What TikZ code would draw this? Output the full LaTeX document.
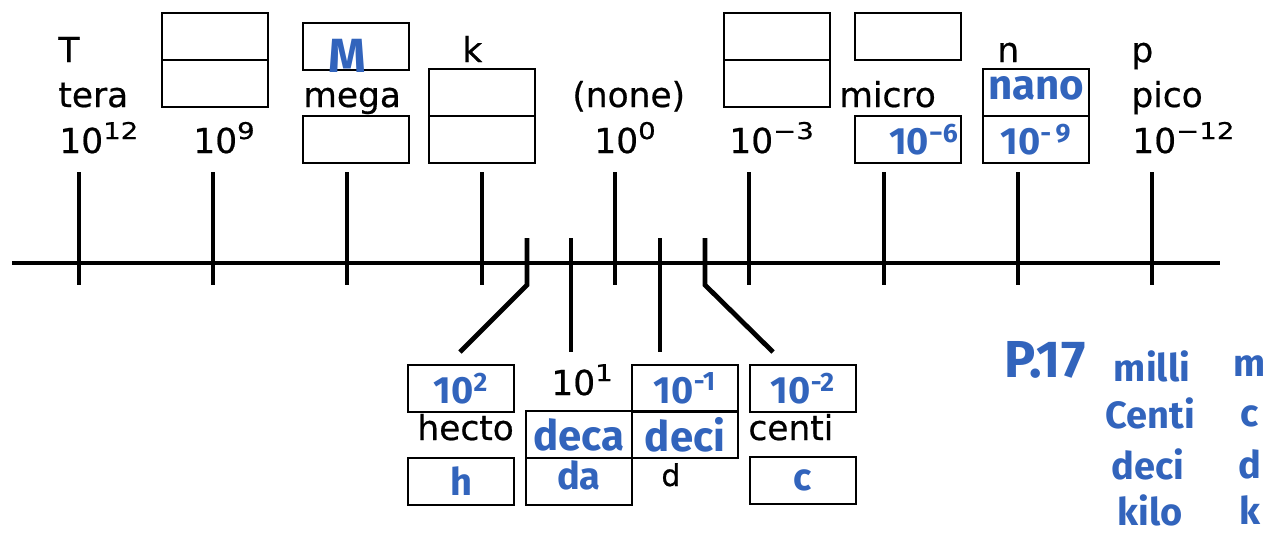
\documentclass[tikz,border=0pt]{standalone}
\usepackage{fontspec}
\setmainfont{DejaVu Sans}[FakeBold=0.6]
\newfontfamily\hand{Fira Sans}
\definecolor{ink}{RGB}{50,100,188}
\newcommand\pw[1]{\raisebox{7pt}{\scalebox{1.2}[1.0]{\fontsize{11.5}{11.5}\selectfont #1}}}
\begin{document}
\begin{tikzpicture}[x=0.5pt,y=-0.5pt,
  lbl/.style={anchor=base west,inner sep=0pt,font=\fontsize{17.2}{17.2}\selectfont},
  box/.style={draw,line width=1pt,minimum width=53pt,minimum height=23.5pt,inner sep=0pt,anchor=north west},
  hw/.style={text=ink,inner sep=0pt,font=\hand\bfseries\fontsize{19}{19}\selectfont},
  axis/.style={line width=2.2pt},
  tick/.style={line width=2.4pt}]
\useasboundingbox (0,0) rectangle (1267,536);
% axis
\coordinate (L) at (12,263);
\coordinate (R) at (1220,263);
\draw[axis] (L) -- (R);
\foreach \x in {79,213,347,482,615,749,884,1018,1152}{
  \draw[tick] (\x,172) -- (\x,285);
}
\draw[tick] (527,238) -- (527,285) -- (460,352);
\draw[tick] (571,238) -- (571,352);
\draw[tick] (660,238) -- (660,352);
\draw[tick] (705,238) -- (705,285) -- (773,352);
% top labels
\node[lbl] (T) at (58,62) {T};
\node[lbl] (tera) at (58,107) {tera};
\node[lbl] (e12) at (59,153) {10\pw{12}};
\node[lbl] (e9) at (193,153) {10\pw{9}};
\node[lbl] (mega) at (303,107) {mega};
\node[lbl] (k) at (462,62) {k};
\node[lbl] (none) at (572,107) {(none)};
\node[lbl] (e0) at (594,153) {10\pw{0}};
\node[lbl] (em3) at (729,153) {10\pw{−3}};
\node[lbl] (micro) at (839,107) {micro};
\node[lbl] (n) at (997,62) {n};
\node[lbl] (p) at (1131,62) {p};
\node[lbl] (pico) at (1131,107) {pico};
\node[lbl] (em12) at (1132,153) {10\pw{−12}};
% top boxes
\node[box] (g1) at (161,12) {};
\node[box] (g2) at (161,59) {};
\node[box] (M1) at (302,22) {};
\node[box] (M2) at (302,115) {};
\node[box] (k1) at (428,68) {};
\node[box] (k2) at (428,115) {};
\node[box] (m1) at (723,12) {};
\node[box] (m2) at (723,59) {};
\node[box] (u1) at (854,12) {};
\node[box] (u2) at (854,115) {};
\node[box] (n1) at (982,68) {};
\node[box] (n2) at (982,115) {};
\node[hw,font=\hand\bfseries\fontsize{24}{24}\selectfont] (Mh) at (347,56) {M};
\node[hw] (uh) at ([xshift=8pt]u2.center) {10\textsuperscript{−6}};
\node[hw,font=\hand\bfseries\fontsize{21}{21}\selectfont] (nh) at ([yshift=2pt]n1.center) {nano};
\node[hw] (n9) at (n2.center) {10\textsuperscript{-\,9}};
% bottom labels
\node[lbl] (e1) at (551,395) {10\pw{1}};
\node[lbl] (hecto) at (417,440) {hecto};
\node[lbl] (centi) at (748,440) {centi};
\node[lbl,font=\fontsize{15}{15}\selectfont] (d) at (661,486) {d};
% bottom boxes
\node[box] (h1) at (407,364) {};
\node[box] (h2) at (407,457) {};
\node[box] (da1) at (525,410) {};
\node[box] (da2) at (525,457) {};
\node[box] (d1) at (631,364) {};
\node[box] (d2) at (631,410) {};
\node[box] (c1) at (749,364) {};
\node[box] (c2) at (749,456) {};
\node[hw] at (h1.center) {10\textsuperscript{2}};
\node[hw] at (h2.center) {h};
\node[hw,font=\hand\bfseries\fontsize{21}{21}\selectfont] at (da1.center) {deca};
\node[hw] at ([yshift=3pt]da2.center) {da};
\node[hw] at (d1.center) {10\textsuperscript{-1}};
\node[hw,font=\hand\bfseries\fontsize{21}{21}\selectfont] at (d2.center) {deci};
\node[hw] at (c1.center) {10\textsuperscript{-2}};
\node[hw] at (c2.center) {c};
% right notes
\node[hw,font=\hand\bfseries\fontsize{26}{26}\selectfont] (pg) at (1045,360) {P.17};
\node[hw] (milli) at (1152,366) {milli};
\node[hw] (mm) at (1250,366) {m};
\node[hw] (centi2) at (1150,413) {Centi};
\node[hw] (cc) at (1250,416) {c};
\node[hw] (deci2) at (1148,464) {deci};
\node[hw] (dd) at (1250,464) {d};
\node[hw] (kilo) at (1150,510) {kilo};
\node[hw] (kk) at (1250,510) {k};
\end{tikzpicture}
\end{document}
